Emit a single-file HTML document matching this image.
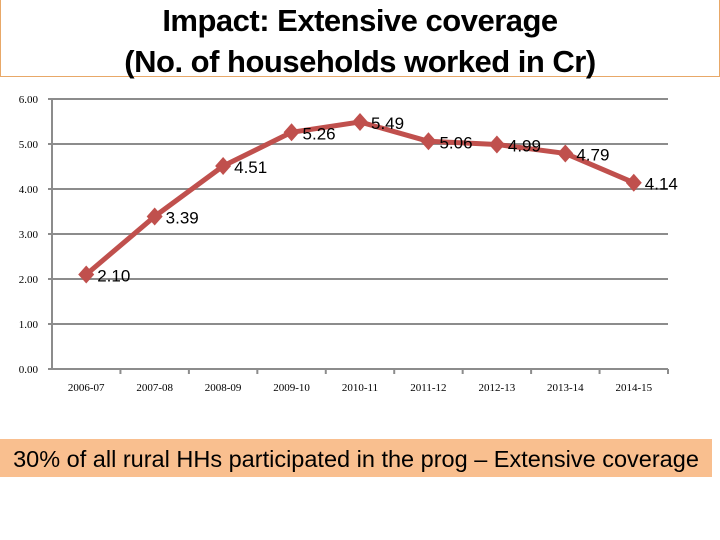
<!DOCTYPE html>
<html><head><meta charset="utf-8"><style>
body{margin:0;width:720px;height:540px;background:#fff;overflow:hidden;position:relative;font-family:"Liberation Sans",sans-serif}
#title{position:absolute;left:0;top:0;width:718px;height:76px;border:1px solid #E8A868;border-top:none;text-align:center;font-weight:bold;font-size:31px;line-height:41px;color:#000;font-family:"Liberation Sans Narrow","Liberation Sans",sans-serif;letter-spacing:-0.5px}
#banner{position:absolute;left:0;top:439px;width:712px;height:38px;background:#F9BF8F;font-size:23.5px;line-height:40px;color:#000;text-align:center;white-space:nowrap}
svg{position:absolute;left:0;top:0}
</style></head><body>
<div id="title">Impact: Extensive coverage<br>(No. of households worked in Cr)</div>
<svg id="chart" width="720" height="540"></svg>
<div id="banner">30% of all rural HHs participated in the prog – Extensive coverage</div>
<script>
const categories=["2006-07","2007-08","2008-09","2009-10","2010-11","2011-12","2012-13","2013-14","2014-15"];
const values=[2.10,3.39,4.51,5.26,5.49,5.06,4.99,4.79,4.14];
const yTicks=[0,1,2,3,4,5,6];
const NS="http://www.w3.org/2000/svg";
const svg=document.getElementById('chart');
const L=52,R=668,T=99,B=369,yMax=6;
const bw=(R-L)/categories.length;
const x=i=>L+bw*(i+0.5);
const y=v=>B-(v/yMax)*(B-T);
function mk(t,a){const e=document.createElementNS(NS,t);for(const k in a)e.setAttribute(k,a[k]);svg.appendChild(e);return e;}
yTicks.forEach(v=>{
  const g=mk('line',{x1:L-4,x2:R,y1:y(v),y2:y(v),stroke:'#8c8c8c','stroke-width':2});
  
  
  const t=mk('text',{x:L-14,y:y(v)+4,'text-anchor':'end','font-size':11,'font-family':'Liberation Serif, serif'});
  t.textContent=v.toFixed(2);
  
  
});
const ax=mk('line',{x1:L,x2:L,y1:T,y2:B,stroke:'#8c8c8c','stroke-width':2});


categories.forEach((c,i)=>{
  const tk=mk('line',{x1:L+bw*(i+1),x2:L+bw*(i+1),y1:B,y2:B+5,stroke:'#8c8c8c','stroke-width':2});
  
  
  const t=mk('text',{x:x(i),y:B+22,'text-anchor':'middle','font-size':11,'font-family':'Liberation Serif, serif'});
  t.textContent=c;
  
  
});
const line=mk('polyline',{points:values.map((v,i)=>x(i)+','+y(v)).join(' '),fill:'none',stroke:'#C0504D','stroke-width':5,'stroke-linejoin':'round'});


values.forEach((v,i)=>{
  const px=x(i),py=y(v);
  const m=mk('polygon',{points:`${px},${py-9} ${px+8},${py} ${px},${py+9} ${px-8},${py}`,fill:'#C0504D'});
  
  
  const t=mk('text',{x:px+11,y:py+7,'font-size':17,'font-family':'Liberation Sans Narrow, Liberation Sans, sans-serif',fill:'#000'});
  t.textContent=v.toFixed(2);
  
  
});
</script>
</body></html>
